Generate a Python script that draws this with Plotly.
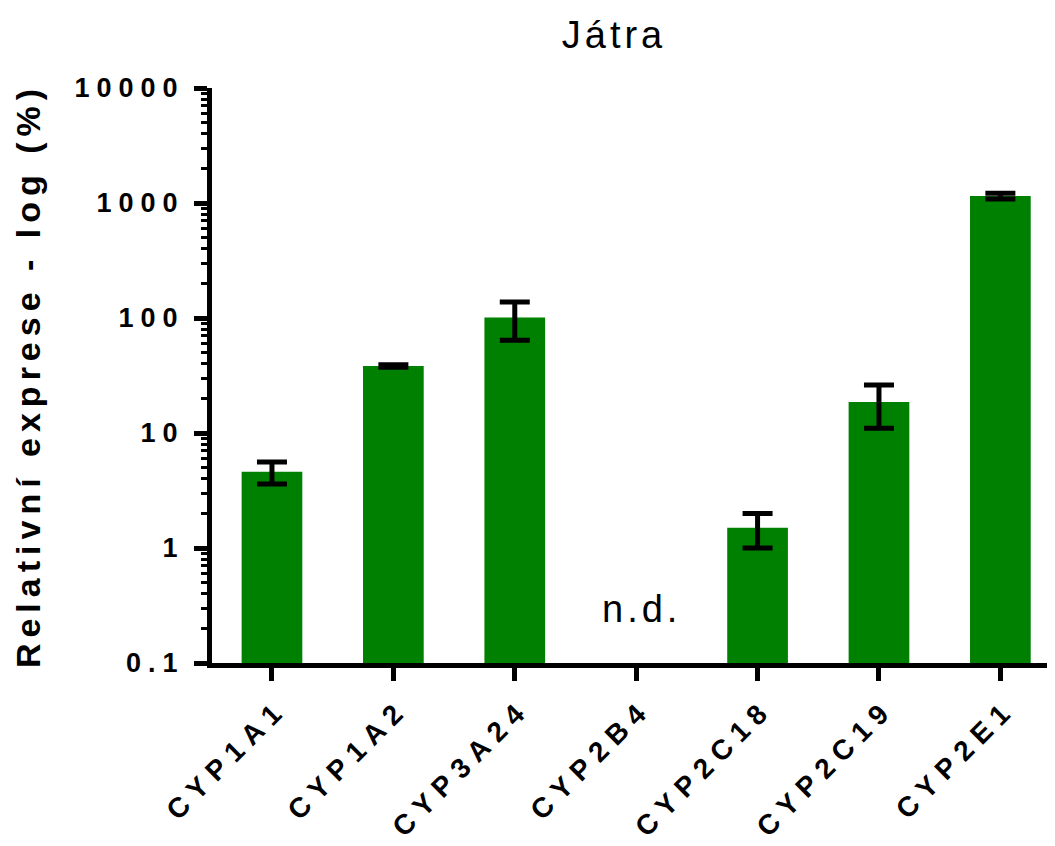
import plotly.graph_objects as go

categories = ["CYP1A1", "CYP1A2", "CYP3A24", "CYP2B4", "CYP2C18", "CYP2C19", "CYP2E1"]
values = [4.6, 38.3, 101, None, 1.5, 18.6, 1150]
errors = [1.0, 1.0, 37, None, 0.5, 7.6, 65]
y_tickvals = [0.1, 1, 10, 100, 1000, 10000]
y_ticktext = ["0.1", "1", "10", "100", "1000", "10000"]
nd_label = "n.d."
nd_category = "CYP2B4"
title_text = "Játra"
y_title = "Relativní exprese - log (%)"

# the page body has an 8px margin, so the figure is drawn 8px in from the corner
W, H = 1047, 838
FONT = "Liberation Sans, Arial"


def spaced(t, px):
    return f"<span style='letter-spacing:{px}px'>{t}</span>"


fig = go.Figure()
fig.add_trace(go.Bar(
    x=categories,
    y=values,
    width=0.5,
    marker=dict(color="#008000", line=dict(width=0)),
    error_y=dict(type="data", array=errors, visible=True,
                 color="black", thickness=5, width=15),
))

fig.update_layout(
    width=W, height=H,
    margin=dict(l=204, r=0, t=80, b=183),
    paper_bgcolor="white", plot_bgcolor="white",
    showlegend=False,
    font=dict(family=FONT, color="black"),
    title=dict(text=spaced(title_text, 4), x=606 / W, xanchor="center",
               y=1 - 27 / H, yanchor="middle",
               font=dict(size=38, family=FONT, color="black")),
    annotations=[dict(x=nd_category, y=-0.53, xref="x", yref="y",
                      text=spaced(nd_label, 4), showarrow=False,
                      xanchor="center", yanchor="middle", xshift=5,
                      font=dict(size=38, family=FONT, color="black"))],
)

fig.update_xaxes(
    type="category",
    range=[-0.494, 6.45],
    tickvals=categories,
    ticktext=[spaced(c, 8) for c in categories],
    tickangle=-45,
    ticklabelshift=7,
    tickfont=dict(size=28, family=FONT, color="black", weight="bold"),
    showline=True, linewidth=5, linecolor="black",
    ticks="outside", ticklen=13, tickwidth=5, tickcolor="black",
    showgrid=False, zeroline=False, automargin=False,
)

fig.update_yaxes(
    type="log",
    range=[-1, 4],
    tickmode="array",
    tickvals=y_tickvals,
    ticktext=[spaced(t, 7) for t in y_ticktext],
    tickfont=dict(size=27, family=FONT, color="black", weight="bold"),
    ticklabelstandoff=4,
    showline=True, linewidth=5, linecolor="black",
    ticks="outside", ticklen=13, tickwidth=5, tickcolor="black",
    minor=dict(ticks="outside", ticklen=6, tickwidth=3, tickcolor="black",
               dtick="D1", showgrid=False),
    showgrid=False, zeroline=False, automargin=False,
    title=dict(text=spaced(y_title, 6), standoff=25,
               font=dict(size=34, family=FONT, color="black", weight="bold")),
)

fig.write_html("out.html")
